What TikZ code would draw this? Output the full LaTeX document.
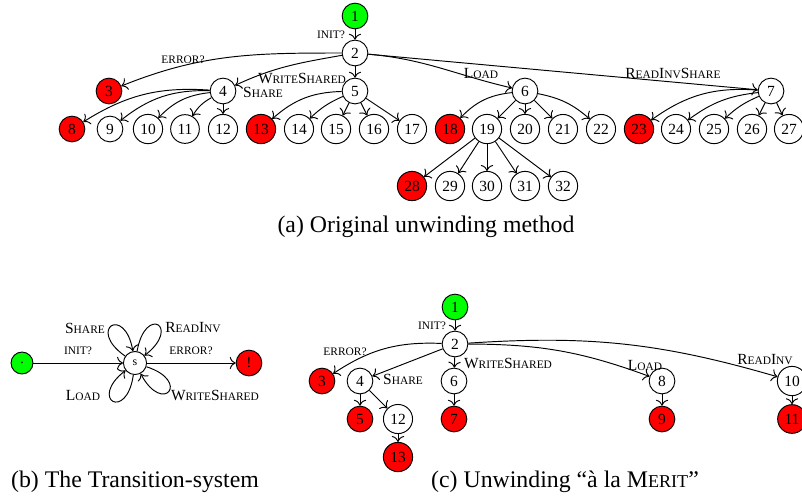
\documentclass[tikz,border=0pt]{standalone}
\usepackage{fontspec}
\setmainfont{Liberation Serif}
\usepackage{xcolor}
\definecolor{initgreen}{HTML}{00FF00}
\definecolor{errred}{HTML}{FF0000}
\usetikzlibrary{arrows.meta}
% small caps by hand (labels and caption)
\newcommand{\lsc}[1]{{\fontsize{4.8}{5}\selectfont #1}}
\newcommand{\capsc}[1]{{\fontsize{7.6}{9}\selectfont #1}}

\begin{document}
\begin{tikzpicture}[
    x=0.42pt, y=0.42pt,
    st/.style={circle, draw, minimum size=10.8pt, inner sep=1.6pt, font=\fontsize{6.5}{6.5}\selectfont},
    ok/.style={st, fill=initgreen},
    bad/.style={st, fill=errred},
    lbl/.style={inner sep=0pt, font=\fontsize{6.5}{7}\selectfont},
    captxt/.style={inner sep=0pt, font=\fontsize{10}{12}\selectfont},
    arrow/.style={-{To}},
    selfloop/.style={looseness=8, min distance=7mm}
]
\useasboundingbox (0,0) rectangle (802,-499);

% (a) Original unwinding method
\node[ok] (a1) at (355,-16) {1};
\node[st] (a2) at (355,-53) {2};
\node[bad] (a3) at (109,-91) {3};
\node[st] (a4) at (223,-91) {4};
\node[st] (a5) at (355,-91) {5};
\node[st] (a6) at (525,-91) {6};
\node[st] (a7) at (771,-91) {7};

\node[bad] (a8) at (72,-129) {8};
\node[st] (a9) at (110,-129) {9};
\node[st] (a10) at (148,-129) {10};
\node[st] (a11) at (185,-129) {11};
\node[st] (a12) at (223,-129) {12};
\node[bad] (a13) at (261,-129) {13};
\node[st] (a14) at (299,-129) {14};
\node[st] (a15) at (336,-129) {15};
\node[st] (a16) at (374,-129) {16};
\node[st] (a17) at (412,-129) {17};
\node[bad] (a18) at (450,-129) {18};
\node[st] (a19) at (487,-129) {19};
\node[st] (a20) at (525,-129) {20};
\node[st] (a21) at (563,-129) {21};
\node[st] (a22) at (601,-129) {22};
\node[bad] (a23) at (639,-129) {23};
\node[st] (a24) at (676,-129) {24};
\node[st] (a25) at (714,-129) {25};
\node[st] (a26) at (752,-129) {26};
\node[st] (a27) at (789,-129) {27};

\node[bad] (a28) at (412,-186) {28};
\node[st] (a29) at (450,-186) {29};
\node[st] (a30) at (487,-186) {30};
\node[st] (a31) at (525,-186) {31};
\node[st] (a32) at (563,-186) {32};

\node[lbl] (ainit) at (331,-35) {\lsc{INIT?}};
\node[lbl] (aerr) at (183,-60) {\lsc{ERROR?}};
\node[lbl] (awrite) at (302,-78) {W\lsc{RITE}S\lsc{HARED}};
\node[lbl] (ashare) at (263,-92) {S\lsc{HARE}};
\node[lbl] (aload) at (481,-73) {L\lsc{OAD}};
\node[lbl] (aread) at (673,-73) {R\lsc{EAD}I\lsc{NV}S\lsc{HARE}};

\draw[arrow] (a1) -- (a2);
\draw[arrow] (a2) to[out=180, in=22] (a3);
\draw[arrow] (a2) to[out=190, in=25] (a4);
\draw[arrow] (a2) -- (a5);
\draw[arrow] (a2) to[out=-5, in=167] (a6);
\draw[arrow] (a2) -- (a7);

\draw[arrow] (a4) to[bend right=18] (a8);
\draw[arrow] (a4) to[bend right=20] (a9);
\draw[arrow] (a4) to[bend right=20] (a10);
\draw[arrow] (a4) to[bend right=15] (a11);
\draw[arrow] (a4) -- (a12);

\draw[arrow] (a5) to[bend right=20] (a13);
\draw[arrow] (a5) to[bend right=10] (a14);
\draw[arrow] (a5) -- (a15);
\draw[arrow] (a5) -- (a16);
\draw[arrow] (a5) -- (a17);

\draw[arrow] (a6) to[bend right=20] (a18);
\draw[arrow] (a6) -- (a19);
\draw[arrow] (a6) -- (a20);
\draw[arrow] (a6) -- (a21);
\draw[arrow] (a6) to[bend left=15] (a22);

\draw[arrow] (a7) to[bend right=20] (a23);
\draw[arrow] (a7) to[bend right=15] (a24);
\draw[arrow] (a7) to[bend right=10] (a25);
\draw[arrow] (a7) -- (a26);
\draw[arrow] (a7) -- (a27);

\draw[arrow] (a19) -- (a28);
\draw[arrow] (a19) -- (a29);
\draw[arrow] (a19) -- (a30);
\draw[arrow] (a19) -- (a31);
\draw[arrow] (a19) -- (a32);

\node[captxt] (capa) at (426,-227) {(a)\ Original unwinding method};

% (b) The Transition-system
\node[ok, minimum size=9.2pt] (binit) at (22,-363) {$\cdot$};
\node[st, minimum size=9.7pt, font=\fontsize{5}{5}\selectfont] (bs) at (135,-363) {s};
\node[bad] (berr) at (249,-363) {!};

\node[lbl] (bshare) at (85,-328) {S\lsc{HARE}};
\node[lbl] (bread) at (193,-328) {R\lsc{EAD}I\lsc{NV}};
\node[lbl] (binitl) at (78,-351) {\lsc{INIT?}};
\node[lbl] (berrl) at (191,-351) {\lsc{ERROR?}};
\node[lbl] (bload) at (83,-395) {L\lsc{OAD}};
\node[lbl] (bwrite) at (215,-395) {W\lsc{RITE}S\lsc{HARED}};

\draw[arrow] (binit) -- (bs);
\draw[arrow] (bs) -- (berr);
\draw[arrow] (bs) to[selfloop, out=145, in=100] (bs);
\draw[arrow] (bs) to[selfloop, out=80, in=38] (bs);
\draw[arrow] (bs) to[selfloop, out=262, in=218] (bs);
\draw[arrow] (bs) to[selfloop, out=-18, in=-62] (bs);

\node[captxt] (capb) at (135,-482) {(b)\ The Transition-system};

% (c) Unwinding a la Merit
\node[ok] (c1) at (455,-307) {1};
\node[st] (c2) at (455,-344) {2};
\node[bad] (c3) at (322,-381) {3};
\node[st] (c4) at (360,-381) {4};
\node[st] (c6) at (454,-381) {6};
\node[st] (c8) at (662,-381) {8};
\node[st] (c10) at (792,-381) {10};
\node[bad] (c5) at (360,-419) {5};
\node[st] (c12) at (398,-419) {12};
\node[bad] (c7) at (454,-419) {7};
\node[bad] (c9) at (662,-419) {9};
\node[bad] (c11) at (792,-419) {11};
\node[bad] (c13) at (398,-457) {13};

\node[lbl] (cinit) at (432,-326) {\lsc{INIT?}};
\node[lbl] (cerr) at (345,-352) {\lsc{ERROR?}};
\node[lbl] (cshare) at (403,-379) {S\lsc{HARE}};
\node[lbl] (cwrite) at (508,-363) {W\lsc{RITE}S\lsc{HARED}};
\node[lbl] (cload) at (645,-365) {L\lsc{OAD}};
\node[lbl] (cread) at (765,-360) {R\lsc{EAD}I\lsc{NV}};

\draw[arrow] (c1) -- (c2);
\draw[arrow] (c2) to[bend right=18] (c3);
\draw[arrow] (c2) -- (c4);
\draw[arrow] (c2) -- (c6);
\draw[arrow] (c2) to[bend left=10] (c8);
\draw[arrow] (c2) to[bend left=10] (c10);
\draw[arrow] (c4) -- (c5);
\draw[arrow] (c4) -- (c12);
\draw[arrow] (c6) -- (c7);
\draw[arrow] (c8) -- (c9);
\draw[arrow] (c10) -- (c11);
\draw[arrow] (c12) -- (c13);

\node[captxt] (capc) at (565,-482) {(c)\ Unwinding ``à la M\capsc{ERIT}''};

\end{tikzpicture}
\end{document}
